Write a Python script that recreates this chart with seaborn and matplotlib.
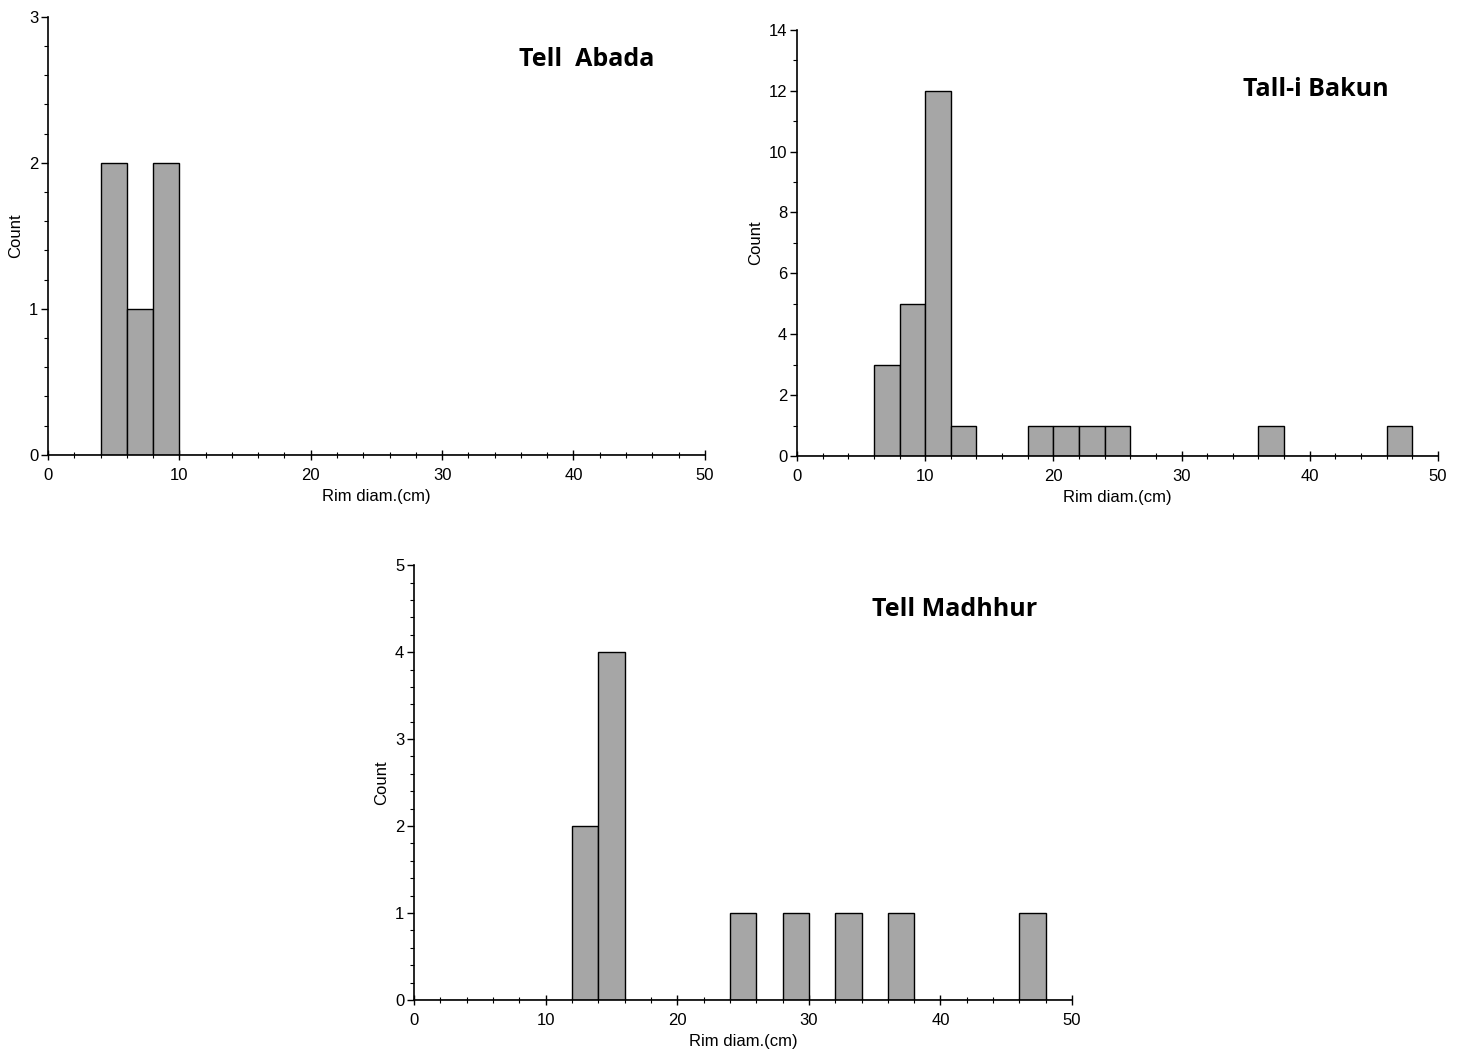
import numpy as np
import pandas as pd
import seaborn as sns
import matplotlib.pyplot as plt
from matplotlib.ticker import MultipleLocator, AutoMinorLocator

# -----------------------------
# Data: bin centres (cm) and counts, bins of 2 cm
# -----------------------------
abada_centres = [5, 7, 9]
abada_counts = [2, 1, 2]

bakun_centres = [7, 9, 11, 13, 19, 21, 23, 25, 37, 47]
bakun_counts = [3, 5, 12, 1, 1, 1, 1, 1, 1, 1]

madhhur_centres = [13, 15, 25, 29, 33, 37, 47]
madhhur_counts = [2, 4, 1, 1, 1, 1, 1]

sns.set_style("ticks")
plt.rcParams['font.family'] = ['Liberation Sans', 'DejaVu Sans']
plt.rcParams['text.color'] = 'black'
plt.rcParams['axes.labelcolor'] = 'black'
plt.rcParams['xtick.color'] = 'black'
plt.rcParams['ytick.color'] = 'black'
plt.rcParams['axes.edgecolor'] = 'black'

fig = plt.figure(figsize=(14.63, 10.53), dpi=100)

panels = [
    ("Tell  Abada", abada_centres, abada_counts, [0.0328, 0.568, 0.449, 0.416], 3, 1, 5, (0.82, 0.902)),
    ("Tall-i Bakun", bakun_centres, bakun_counts, [0.5448, 0.567, 0.438, 0.4046], 14, 2, 2, (0.81, 0.861)),
    ("Tell Madhhur", madhhur_centres, madhhur_counts, [0.283, 0.0503, 0.4498, 0.413], 5, 1, 5, (0.822, 0.899)),
]

for title, centres, counts, pos, ymax, ystep, yminor, tpos in panels:
    ax = fig.add_axes(pos)
    df = pd.DataFrame({"diam": centres, "n": counts})
    sns.histplot(data=df, x="diam", weights="n", binwidth=2, binrange=(0, 50), ax=ax,
                 color="#a6a6a6", edgecolor="black", linewidth=1.0, alpha=1)
    ax.set_xlim(0, 50)
    ax.set_ylim(0, ymax)
    ax.xaxis.set_major_locator(MultipleLocator(10))
    ax.xaxis.set_minor_locator(AutoMinorLocator(5))
    ax.yaxis.set_major_locator(MultipleLocator(ystep))
    ax.yaxis.set_minor_locator(AutoMinorLocator(yminor))
    ax.tick_params(axis="x", which="major", direction="inout", length=7, width=1, labelsize=12, pad=6)
    ax.tick_params(axis="x", which="minor", direction="inout", length=4, width=0.8)
    ax.tick_params(axis="y", which="major", direction="out", length=5, width=1, labelsize=12, pad=2)
    ax.tick_params(axis="y", which="minor", direction="out", length=3, width=0.8)
    ax.set_xlabel("Rim diam.(cm)", fontsize=12, labelpad=4)
    ax.set_ylabel("Count", fontsize=12, labelpad=4)
    for s in ["top", "right"]:
        ax.spines[s].set_visible(False)
    ax.spines["left"].set_linewidth(1.2)
    ax.spines["bottom"].set_linewidth(1.2)
    ax.text(tpos[0], tpos[1], title, transform=ax.transAxes, ha="center", va="center",
            fontsize=18, fontweight="bold", color="black", family=["Open Sans", "DejaVu Sans"])

fig.savefig("out.png", dpi=100)
